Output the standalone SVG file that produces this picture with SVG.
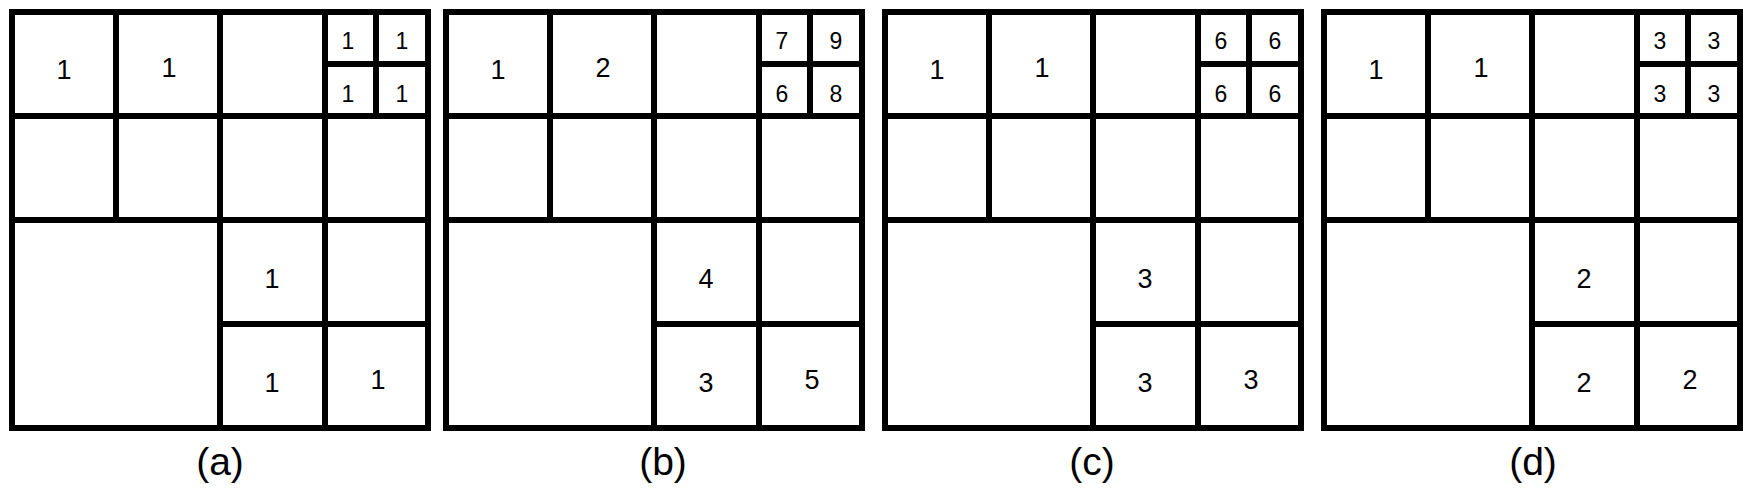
<svg xmlns="http://www.w3.org/2000/svg" xmlns:xlink="http://www.w3.org/1999/xlink" width="1749" height="490" viewBox="0 0 1749 490">
<style>
  .ln { stroke: #000; stroke-width: 6; fill: none; stroke-linecap: square; }
  .big { font-family: "Liberation Sans", Arial, sans-serif; font-size: 27px; fill: #000; text-anchor: middle; }
  .sm { font-family: "Liberation Sans", Arial, sans-serif; font-size: 23px; fill: #000; text-anchor: middle; }
  .cap { font-family: "Liberation Sans", Arial, sans-serif; font-size: 39px; fill: #000; text-anchor: middle; }
</style>
<defs>
  <g id="grid">
    <rect class="ln" x="0" y="0" width="416" height="416"/>
    <path class="ln" d="M104 0V208M208 0V416M313 0V416M364 0V104M0 104H416M0 208H416M208 312H416M313 52H416"/>
  </g>
</defs>
<rect width="1749" height="490" fill="#fff"/>
<g id="panel-a" transform="translate(12,12)">
  <use xlink:href="#grid" href="#grid"/>
  <text class="big" x="52" y="67">1</text>
  <text class="big" x="157" y="65">1</text>
  <text class="sm" x="336" y="37">1</text>
  <text class="sm" x="390" y="37">1</text>
  <text class="sm" x="336" y="90">1</text>
  <text class="sm" x="390" y="90">1</text>
  <text class="big" x="260" y="276">1</text>
  <text class="big" x="260" y="380">1</text>
  <text class="big" x="366" y="377">1</text>
</g>
<g id="panel-b" transform="translate(446,12)">
  <use xlink:href="#grid" href="#grid"/>
  <text class="big" x="52" y="67">1</text>
  <text class="big" x="157" y="65">2</text>
  <text class="sm" x="336" y="37">7</text>
  <text class="sm" x="390" y="37">9</text>
  <text class="sm" x="336" y="90">6</text>
  <text class="sm" x="390" y="90">8</text>
  <text class="big" x="260" y="276">4</text>
  <text class="big" x="260" y="380">3</text>
  <text class="big" x="366" y="377">5</text>
</g>
<g id="panel-c" transform="translate(885,12)">
  <use xlink:href="#grid" href="#grid"/>
  <text class="big" x="52" y="67">1</text>
  <text class="big" x="157" y="65">1</text>
  <text class="sm" x="336" y="37">6</text>
  <text class="sm" x="390" y="37">6</text>
  <text class="sm" x="336" y="90">6</text>
  <text class="sm" x="390" y="90">6</text>
  <text class="big" x="260" y="276">3</text>
  <text class="big" x="260" y="380">3</text>
  <text class="big" x="366" y="377">3</text>
</g>
<g id="panel-d" transform="translate(1324,12)">
  <use xlink:href="#grid" href="#grid"/>
  <text class="big" x="52" y="67">1</text>
  <text class="big" x="157" y="65">1</text>
  <text class="sm" x="336" y="37">3</text>
  <text class="sm" x="390" y="37">3</text>
  <text class="sm" x="336" y="90">3</text>
  <text class="sm" x="390" y="90">3</text>
  <text class="big" x="260" y="276">2</text>
  <text class="big" x="260" y="380">2</text>
  <text class="big" x="366" y="377">2</text>
</g>
<g id="captions">
  <text class="cap" x="220" y="475">(a)</text>
  <text class="cap" x="663" y="475">(b)</text>
  <text class="cap" x="1092" y="475">(c)</text>
  <text class="cap" x="1533" y="475">(d)</text>
</g>
<g id="connectors"/>
</svg>
